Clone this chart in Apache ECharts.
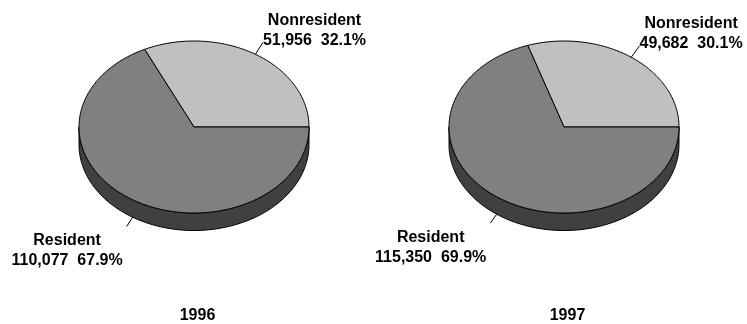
<!DOCTYPE html>
<html>
<head>
<meta charset="utf-8">
<script src="https://cdn.jsdelivr.net/npm/echarts@6/dist/echarts.min.js"></script>
<style>
  html, body { margin: 0; padding: 0; background: #ffffff; }
  #chart { width: 747px; height: 324px; }
</style>
</head>
<body>
<div id="chart"></div>
<script>
// Visitors by residence, two years side by side
const years = ['1996', '1997'];
const categories = ['Nonresident', 'Resident'];
const nonresident = [51956, 49682];
const resident = [110077, 115350];

// Drawing settings for the tilted (3-D look) pies
const FONT = '"Liberation Sans", Arial, Helvetica, sans-serif';
const TOP_COLORS = ['#c0c0c0', '#808080'];
const SIDE_COLORS = ['#606060', '#404040'];
const PIE_CX = [194, 564];
const PIE_CY = 127;
const RX = 115;
const RY = 86;
const DEPTH = 17.5;

const measureCtx = document.createElement('canvas').getContext('2d');
measureCtx.font = 'bold 16px ' + FONT;
function blockWidth(text) {
  return Math.max.apply(null, text.split('\n').map(function (t) { return measureCtx.measureText(t).width; }));
}

function arcPoints(cx, cy, a0, a1, dy) {
  const pts = [];
  const steps = Math.max(2, Math.ceil(Math.abs(a1 - a0)));
  for (let k = 0; k <= steps; k++) {
    const a = (a0 + (a1 - a0) * k / steps) * Math.PI / 180;
    pts.push([cx + RX * Math.cos(a), cy - RY * Math.sin(a) + dy]);
  }
  return pts;
}

function makeRenderer(yearIdx) {
  const vals = [nonresident[yearIdx], resident[yearIdx]];
  const total = vals.reduce(function (s, v) { return s + v; }, 0);
  const cx = PIE_CX[yearIdx];
  const cy = PIE_CY;
  return function (params, api) {
    const i = params.dataIndex;
    const v = api.value(0);
    let before = 0;
    for (let k = 0; k < i; k++) before += vals[k];
    // angles counter-clockwise from 3 o'clock, in degrees
    const a0 = before / total * 360;
    const a1 = (before + v) / total * 360;
    const children = [];

    // visible front wall of the slice
    const s = Math.max(a0, 180), e = Math.min(a1, 360);
    if (e > s) {
      const top = arcPoints(cx, cy, s, e, 0);
      const bottom = arcPoints(cx, cy, e, s, DEPTH);
      children.push({
        type: 'polygon', z2: 1,
        shape: { points: top.concat(bottom) },
        style: { fill: SIDE_COLORS[i], stroke: '#000', lineWidth: 1 }
      });
    }

    // top face of the slice
    children.push({
      type: 'polygon', z2: 2,
      shape: { points: [[cx, cy]].concat(arcPoints(cx, cy, a0, a1, 0)) },
      style: { fill: TOP_COLORS[i], stroke: '#000', lineWidth: 1 }
    });

    // leader line and label
    const m = (a0 + a1) / 2 * Math.PI / 180;
    const c = Math.cos(m), sn = Math.sin(m);
    const front = sn < 0;
    const x1 = cx + RX * c, y1 = cy - RY * sn + (front ? DEPTH : 0);
    const len = front ? 11 : 14;
    const x2 = x1 + c * len, y2 = y1 - sn * len;
    children.push({
      type: 'line', z2: 3,
      shape: { x1: x1, y1: y1, x2: x2, y2: y2 },
      style: { stroke: '#000', lineWidth: 1 }
    });

    const pct = (v / total * 100).toFixed(1) + '%';
    const text = categories[i] + '\n' + echarts.format.addCommas(v) + '  ' + pct;
    const w = blockWidth(text);
    const right = c >= 0;
    children.push({
      type: 'text', z2: 4,
      x: right ? x2 + w / 2 : x2 - 4 - w / 2,
      y: front ? y2 + 4 : y2 + 8,
      style: {
        text: text,
        fill: '#000',
        font: 'bold 16px ' + FONT,
        align: 'center',
        verticalAlign: front ? 'top' : 'bottom',
        lineHeight: 20
      }
    });

    return { type: 'group', children: children };
  };
}

const chart = echarts.init(document.getElementById('chart'), null, { renderer: 'canvas' });

const series = years.map(function (y, yi) {
  return {
    type: 'custom',
    name: y,
    coordinateSystem: 'none',
    silent: true,
    animation: false,
    renderItem: makeRenderer(yi),
    data: [[nonresident[yi], 0], [resident[yi], 1]]
  };
});

chart.setOption({
  backgroundColor: '#ffffff',
  animation: false,
  graphic: years.map(function (y, yi) {
    return {
      type: 'text',
      x: PIE_CX[yi] + 3.5,
      y: 316,
      style: {
        text: y,
        fill: '#000',
        font: 'bold 16px ' + FONT,
        align: 'center',
        verticalAlign: 'middle'
      }
    };
  }),
  series: series
});
</script>
</body>
</html>
